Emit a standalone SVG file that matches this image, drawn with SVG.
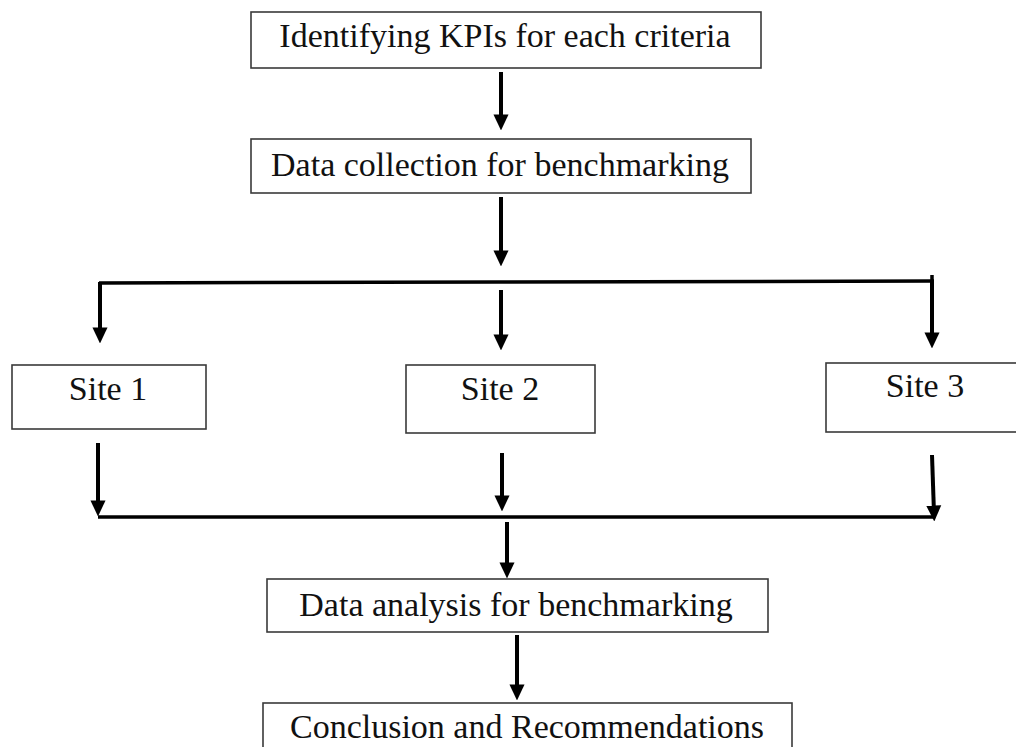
<svg xmlns="http://www.w3.org/2000/svg" width="1016" height="747" viewBox="0 0 1016 747">
  <style>
    .box { fill: #ffffff; stroke: #3a3a3a; stroke-width: 1.6; }
    .lbl { font-family: "Liberation Serif", "Times New Roman", serif; font-size: 34px; fill: #111111; text-anchor: middle; }
    .wire { stroke: #000000; stroke-width: 3.5; fill: none; }
    .arr { stroke: #000000; stroke-width: 4; fill: none; marker-end: url(#head); }
  </style>
  <defs>
    <marker id="head" markerUnits="userSpaceOnUse" markerWidth="16" markerHeight="17" viewBox="0 0 17 16" refX="8" refY="8" orient="auto">
      <path d="M0,0 L17,8 L0,16 z" fill="#000000"/>
    </marker>
  </defs>
  <rect width="1016" height="747" fill="#ffffff"/>

  <g id="connectors">
    <line class="arr" x1="501" y1="72" x2="501" y2="122"/>
    <line class="arr" x1="501" y1="197" x2="501" y2="258"/>
    <polyline class="wire" points="99,283 500,282 934,281"/>
    <line class="wire" x1="932" y1="275" x2="932" y2="284"/>
    <line class="arr" x1="100" y1="282" x2="100" y2="335"/>
    <line class="arr" x1="501" y1="290" x2="501" y2="342"/>
    <line class="arr" x1="932" y1="280" x2="932" y2="340"/>
    <line class="arr" x1="98" y1="443" x2="98" y2="508"/>
    <line class="arr" x1="502" y1="453" x2="502" y2="503"/>
    <line class="arr" x1="932" y1="455" x2="934" y2="513"/>
    <line class="wire" x1="98" y1="517" x2="935" y2="517"/>
    <line class="arr" x1="507" y1="522" x2="507" y2="570"/>
    <line class="arr" x1="517" y1="635" x2="517" y2="692"/>
  </g>

  <g id="node-kpis">
    <rect class="box" x="251" y="12" width="510" height="56"/>
    <text class="lbl" x="505" y="47">Identifying KPIs for each criteria</text>
  </g>
  <g id="node-collection">
    <rect class="box" x="251" y="139" width="500" height="54"/>
    <text class="lbl" x="500" y="176">Data collection for benchmarking</text>
  </g>
  <g id="node-site1">
    <rect class="box" x="12" y="365" width="194" height="64"/>
    <text class="lbl" x="108" y="400">Site 1</text>
  </g>
  <g id="node-site2">
    <rect class="box" x="406" y="365" width="189" height="68"/>
    <text class="lbl" x="500" y="400">Site 2</text>
  </g>
  <g id="node-site3">
    <rect class="box" x="826" y="363" width="200" height="69"/>
    <text class="lbl" x="925" y="397">Site 3</text>
  </g>
  <g id="node-analysis">
    <rect class="box" x="267" y="579" width="501" height="53"/>
    <text class="lbl" x="516" y="616">Data analysis for benchmarking</text>
  </g>
  <g id="node-conclusion">
    <rect class="box" x="263" y="703" width="529" height="60"/>
    <text class="lbl" x="527" y="738">Conclusion and Recommendations</text>
  </g>
</svg>
